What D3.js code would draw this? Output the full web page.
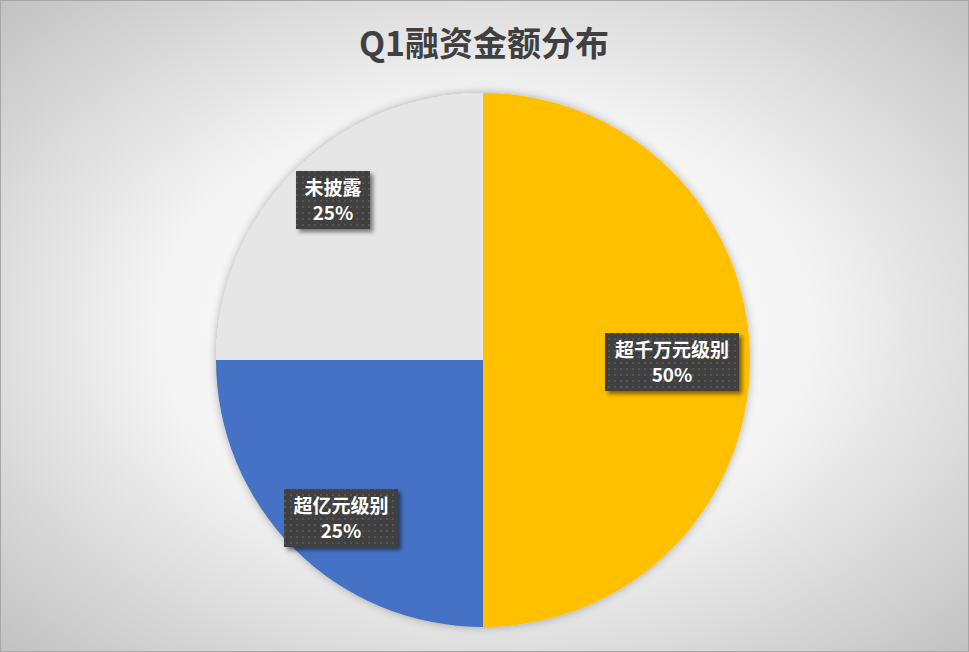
<!DOCTYPE html>
<html><head><meta charset="utf-8">
<script src="https://cdn.jsdelivr.net/npm/d3@7"></script>
<style>body{margin:0}svg{display:block}</style></head>
<body><svg id="c" width="969" height="652"></svg>
<script>
const categories=["超千万元级别","超亿元级别","未披露"];
const values=[50,25,25];
const colors=["#FFC000","#4472C4","#E7E6E6"];
const title="Q1融资金额分布";
const svg=d3.select("#c");
const defs=svg.append("defs");
const g=defs.append("radialGradient").attr("id","bg").attr("cx","50%").attr("cy","50%").attr("r","75%");
g.append("stop").attr("offset","0%").attr("stop-color","#ffffff");
g.append("stop").attr("offset","45%").attr("stop-color","#f4f4f4");
g.append("stop").attr("offset","100%").attr("stop-color","#bcbcbc");
const p=defs.append("pattern").attr("id","dots").attr("width",6).attr("height",6).attr("patternUnits","userSpaceOnUse");
p.append("rect").attr("width",6).attr("height",6).attr("fill","#404040");
p.append("rect").attr("x",2).attr("y",2).attr("width",2).attr("height",2).attr("fill","#555");
const f=defs.append("filter").attr("id","sh").attr("x","-20%").attr("y","-20%").attr("width","150%").attr("height","150%");
f.append("feDropShadow").attr("dx",3).attr("dy",3).attr("stdDeviation",2).attr("flood-color","#000").attr("flood-opacity",0.5);
const fp=defs.append("filter").attr("id","psh").attr("x","-20%").attr("y","-20%").attr("width","140%").attr("height","140%");
fp.append("feDropShadow").attr("dx",0).attr("dy",0).attr("stdDeviation",4).attr("flood-color","#000").attr("flood-opacity",0.3);
svg.append("rect").attr("x",0.5).attr("y",0.5).attr("width",968).attr("height",651).attr("fill","url(#bg)").attr("stroke","#a6a6a6");
svg.append("text").attr("x",484).attr("y",56).attr("text-anchor","middle").attr("font-family","Noto Sans CJK SC").attr("font-weight","bold").attr("font-size",34).attr("fill","#404040").text(title);
const cx=483,cy=360,r=267;
const pie=d3.pie().sort(null).value(d=>d)(values);
const arc=d3.arc().innerRadius(0).outerRadius(r);
const G=svg.append("g").attr("transform",`translate(${cx},${cy})`);
G.append("g").attr("filter","url(#psh)").selectAll("path").data(pie).join("path").attr("d",arc).attr("fill",(d,i)=>colors[i]);
const labelPos=[[672,362],[341,518],[333,200]];
const L=svg.append("g");
pie.forEach((d,i)=>{
  const [x,y]=labelPos[i];
  const t=categories[i];
  const w=t.length*20+14, h=58;
  const lg=L.append("g");
  lg.append("rect").attr("x",x-w/2).attr("y",y-h/2).attr("width",w).attr("height",h).attr("fill","url(#dots)").attr("filter","url(#sh)");
  const st=s=>s.attr("text-anchor","middle").attr("font-family","Noto Sans CJK SC").attr("font-weight","bold").attr("font-size",19).attr("fill","#fff");
  st(lg.append("text").attr("x",x).attr("y",y-5).text(t));
  st(lg.append("text").attr("x",x).attr("y",y+20).text(values[i]+"%"));
});
</script></body></html>
